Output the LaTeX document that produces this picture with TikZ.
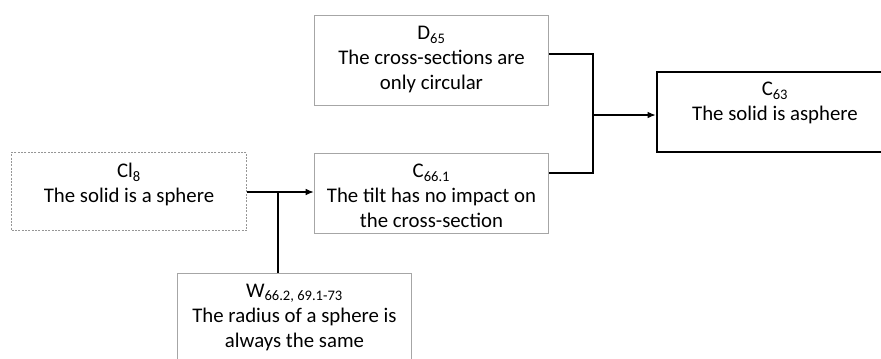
\documentclass[tikz,border=0pt]{standalone}
\usepackage{fontspec}
\setmainfont{Carlito}
\usetikzlibrary{arrows.meta}

\definecolor{boxline}{RGB}{166,166,166}
\definecolor{dashline}{RGB}{150,150,150}

\tikzset{every picture/.style={line width=0.75pt}}
\tikzset{
  box/.style={draw=boxline, rectangle, minimum width=176pt, inner sep=0pt},
  claimbox/.style={box, draw=black, line width=2.2pt},
  txt/.style={anchor=north, inner sep=0pt, align=center,
    font=\fontsize{15.6}{18.75}\selectfont},
  link/.style={draw=black, line width=0.8pt},
  arr/.style={link, -{Latex[length=6pt,width=5pt]}}
}

\begin{document}
\begin{tikzpicture}[x=0.75pt,y=0.75pt,yscale=-1]
  \useasboundingbox (0,0) rectangle (881,358);

  %Boxes
  \node[box, draw=dashline, dash pattern=on 1.5pt off 1pt, minimum height=59pt] (cl8) at (129,191.5) {};
  \node[box, minimum height=60pt] (c661) at (431.5,193) {};
  \node[box, minimum height=68pt] (d65) at (431.5,60.5) {};
  \node[claimbox, minimum width=177pt, minimum height=60pt] (c63) at (775,112) {};
  \node[box, minimum height=66pt] (w) at (294.5,317) {};

  %Texts (y is flipped, so a positive yshift goes down)
  \node[txt] (cl8t) at ([yshift=8.5pt]cl8.north) {Cl\textsubscript{8}\\The solid is a sphere};
  \node[txt] (c661t) at ([yshift=8.5pt]c661.north) {C\textsubscript{66.1}\\The tilt has no impact on\\the cross-section};
  \node[txt] (d65t) at ([yshift=8.5pt]d65.north) {D\textsubscript{65}\\The cross-sections are\\only circular};
  \node[txt] (c63t) at ([yshift=8.5pt]c63.north) {C\textsubscript{63}\\The solid is asphere};
  \node[txt] (wt) at ([yshift=8.5pt]w.north) {W\textsubscript{66.2, 69.1-73}\\The radius of a sphere is\\always the same};

  %Connectors
  \coordinate (jw) at (278,192);
  \coordinate (jm) at (593,115);
  \draw[arr] (cl8.east |- jw) -- (c661.west |- jw);
  \draw[link] (w.north -| jw) -- (jw);
  \draw[link] ([yshift=-4.9pt]d65.east) -| (jm);
  \draw[link] ([yshift=-15pt]c661.east) -| (jm);
  \draw[arr] (jm) -- (jm -| c63.west);
\end{tikzpicture}
\end{document}
